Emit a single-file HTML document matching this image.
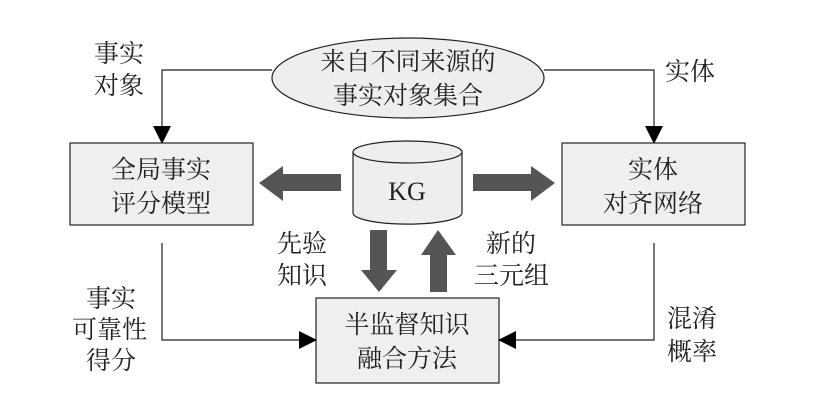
<!DOCTYPE html>
<html><head><meta charset="utf-8"><style>
html,body{margin:0;padding:0;background:#fff;}
svg text{font-family:"Liberation Serif","Noto Serif CJK SC","Noto Sans CJK SC",serif;font-size:25px;fill:#222;}
</style></head><body>
<svg width="835" height="413" viewBox="0 0 835 413" xmlns="http://www.w3.org/2000/svg">
<defs>
<marker id="b" markerWidth="18" markerHeight="18" refX="17" refY="9" orient="auto" markerUnits="userSpaceOnUse"><path d="M0,0 L18,9 L0,18 z" fill="#000"/></marker></defs>
<ellipse cx="408" cy="78" rx="136" ry="40" fill="#eee" stroke="#222" stroke-width="1.2"/>
<text x="408" y="70" text-anchor="middle">来自不同来源的</text>
<text x="408" y="104" text-anchor="middle">事实对象集合</text>
<polyline points="272,70 162,70 162,143" fill="none" stroke="#222" stroke-width="1.2" marker-end="url(#b)"/>
<polyline points="544,70 654,70 654,143" fill="none" stroke="#222" stroke-width="1.2" marker-end="url(#b)"/>
<rect x="70" y="143" width="183" height="82" fill="#efefef" stroke="#222" stroke-width="1.2"/>
<text x="161" y="178" text-anchor="middle">全局事实</text>
<text x="161" y="212" text-anchor="middle">评分模型</text>
<rect x="562" y="143" width="183" height="82" fill="#efefef" stroke="#222" stroke-width="1.2"/>
<text x="653" y="178" text-anchor="middle">实体</text>
<text x="653" y="212" text-anchor="middle">对齐网络</text>
<path d="M353,152 L353,213 A54,11 0 0 0 462,213 L462,152" fill="#eee" stroke="#222" stroke-width="1.2"/>
<ellipse cx="407.5" cy="152" rx="54.5" ry="11" fill="#eee" stroke="#222" stroke-width="1.2"/>
<text x="407" y="200" text-anchor="middle" style="font-size:26px">KG</text>
<path d="M341,174 L283,174 L283,166 L259,183 L283,201 L283,191 L341,191 z" fill="#555"/>
<path d="M473,174 L531,174 L531,166 L555,183 L531,201 L531,191 L473,191 z" fill="#555"/>
<path d="M370,230 L387,230 L387,270 L397,270 L379,292 L361,270 L370,270 z" fill="#555"/>
<path d="M430,292 L447,292 L447,255 L456,255 L438,230 L421,255 L430,255 z" fill="#555"/>
<rect x="316" y="298" width="183" height="85" fill="#efefef" stroke="#222" stroke-width="1.2"/>
<text x="407" y="333" text-anchor="middle">半监督知识</text>
<text x="407" y="367" text-anchor="middle">融合方法</text>
<polyline points="162,243 162,340 316,340" fill="none" stroke="#222" stroke-width="1.2" marker-end="url(#b)"/>
<polyline points="654,243 654,340 499,340" fill="none" stroke="#222" stroke-width="1.2" marker-end="url(#b)"/>
<text x="94" y="62">事实</text>
<text x="94" y="94">对象</text>
<text x="665" y="80">实体</text>
<text x="277" y="252">先验</text>
<text x="277" y="284">知识</text>
<text x="486" y="252">新的</text>
<text x="474" y="284">三元组</text>
<text x="86" y="307">事实</text>
<text x="72" y="338">可靠性</text>
<text x="86" y="369">得分</text>
<text x="667" y="327">混淆</text>
<text x="667" y="360">概率</text>
</svg>
</body></html>
